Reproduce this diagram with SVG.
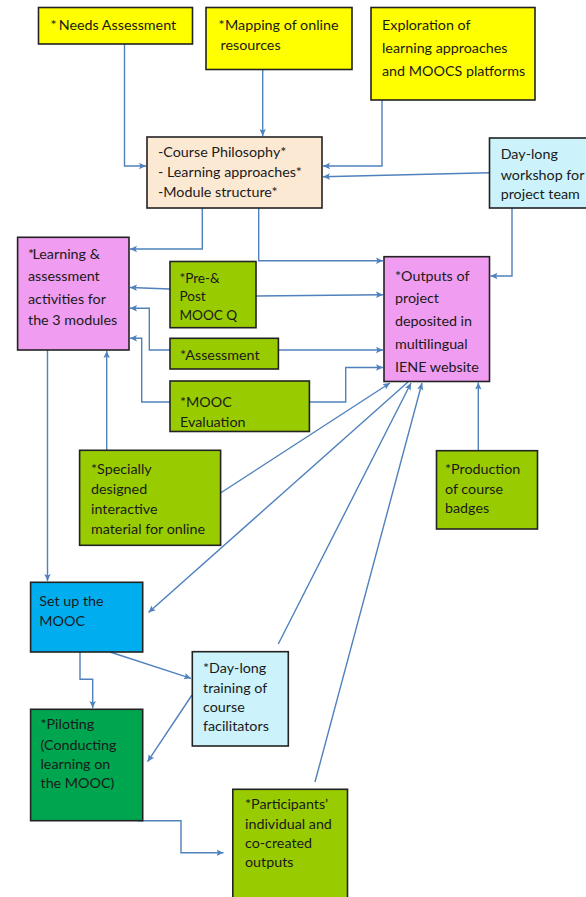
<svg xmlns="http://www.w3.org/2000/svg" width="586" height="897" viewBox="0 0 586 897">
<defs>
<marker id="ah" markerUnits="userSpaceOnUse" markerWidth="10" markerHeight="10" refX="7" refY="3.5" orient="auto">
<path d="M0,0.3 L7,3.5 L0,6.7 L1.5,3.5 z" fill="#4F81BD"/>
</marker>
<style>
.b{stroke:#222;stroke-width:1.6}
.y{fill:#FFFF00}.g{fill:#99CC00}.p{fill:#F09CF0}.t{fill:#FCE9D4}.c{fill:#CCF3FB}.bl{fill:#00AEEF}.dg{fill:#00A550}
text{font-family:Lato,"Liberation Sans",sans-serif;font-size:14.3px;fill:#1a1a1a}
.s{font-size:13.6px}
.cn path{fill:none;stroke:#4F81BD;stroke-width:1.4;marker-end:url(#ah)}
</style>
</defs>
<rect width="586" height="897" fill="#fff"/>
<g class="cn" id="connectors">
<path d="M124.5,44 V166 H146"/>
<path d="M262.7,69.3 V136"/>
<path d="M382,100 V166 H323"/>
<path d="M489.5,172.7 L323,176.7"/>
<path d="M512,208 V276 H490.5"/>
<path d="M202.3,208 V249 H130"/>
<path d="M258.7,208 V260.7 H383"/>
<path d="M170,289 L130,287.5"/>
<path d="M256,296 L383,294.7"/>
<path d="M170,350 H149.3 V308.3 H130"/>
<path d="M278.4,350 H383"/>
<path d="M170,402 H141.7 V338.3 H130"/>
<path d="M309.5,402 H345.7 V367.5 H383"/>
<path d="M106.7,450 V351"/>
<path d="M220.5,493 L390,383"/>
<path d="M408,382 L148.5,612.5"/>
<path d="M278.3,644 L411,383"/>
<path d="M315,782 L422,383"/>
<path d="M478.3,450.7 V382.5"/>
<path d="M47.5,350 V581"/>
<path d="M80,652 V679.3 H92.7 V708"/>
<path d="M110,652 L191,678.3"/>
<path d="M192,695 L147.6,761.7"/>
<path d="M138,820.7 H181 V852.7 H223.5"/>
</g>
<g id="needs"><rect class="b y" x="38.5" y="7.5" width="154" height="36.5"/><text x="50.4" y="30">*<tspan x="58.7">Needs Assessment</tspan></text></g>
<g id="mapping"><rect class="b y" x="206" y="7.5" width="146" height="62"/><text x="218.6" y="30">*<tspan x="225">Mapping of online</tspan></text><text x="220.5" y="50">resources</text></g>
<g id="exploration"><rect class="b y" x="371" y="7.5" width="164" height="92.5"/><text x="382" y="30">Exploration of</text><text x="382" y="53">learning approaches</text><text x="382" y="76">and MOOCS platforms</text></g>
<g id="course"><rect class="b t" x="147" y="137" width="175" height="71"/><text x="158" y="157">-Course Philosophy*</text><text x="158" y="177">- Learning approaches*</text><text x="158" y="197">-Module structure*</text></g>
<g id="workshop"><rect class="b c" x="489.5" y="138" width="100" height="70"/><text x="500.7" y="159">Day-long</text><text x="500.7" y="180">workshop for</text><text x="500.7" y="199">project team</text></g>
<g id="learning"><rect class="b p" x="17.6" y="237.3" width="111.4" height="112.7"/><text x="28" y="259">*<tspan x="32.5">Learning  &amp;</tspan></text><text x="28" y="281">assessment</text><text x="28" y="303.5">activities for</text><text x="28" y="325">the 3 modules</text></g>
<g id="prepost"><rect class="b g" x="170" y="261.5" width="86" height="66.2"/><text class="s" x="179.4" y="283">*Pre-&amp;</text><text class="s" x="179.4" y="301">Post</text><text class="s" x="179.4" y="320">MOOC Q</text></g>
<g id="assessment"><rect class="b g" x="170" y="338.3" width="108.4" height="30.7"/><text x="180" y="360">*Assessment</text></g>
<g id="evaluation"><rect class="b g" x="170" y="381" width="139.4" height="50.5"/><text x="180" y="407">*MOOC</text><text x="180" y="427">Evaluation</text></g>
<g id="outputs"><rect class="b p" x="384" y="256.7" width="105.5" height="124.8"/><text x="395" y="281">*Outputs of</text><text x="395" y="303">project</text><text x="395" y="326">deposited in</text><text x="395" y="349">multilingual</text><text x="395" y="372">IENE website</text></g>
<g id="specially"><rect class="b g" x="79.6" y="450.3" width="141" height="95"/><text x="91" y="474">*Specially</text><text x="91" y="494">designed</text><text x="91" y="514">interactive</text><text x="91" y="534">material for online</text></g>
<g id="badges"><rect class="b g" x="436.5" y="450.7" width="101" height="78.3"/><text x="445" y="474">*Production</text><text x="445" y="494">of course</text><text x="445" y="513">badges</text></g>
<g id="setup"><rect class="b bl" x="30.6" y="582.3" width="112.1" height="69.7"/><text x="39.3" y="606">Set up the</text><text x="39.3" y="626">MOOC</text></g>
<g id="training"><rect class="b c" x="192.3" y="651.7" width="96" height="94.3"/><text x="203" y="673">*Day-long</text><text x="203" y="693">training of</text><text x="203" y="712">course</text><text x="203" y="731">facilitators</text></g>
<g id="piloting"><rect class="b dg" x="30.6" y="709.3" width="112.1" height="111.4"/><text x="40.5" y="729">*Piloting</text><text x="40.5" y="750">(Conducting</text><text x="40.5" y="769">learning on</text><text x="40.5" y="788">the MOOC)</text></g>
<g id="participants"><rect class="b g" x="232.8" y="789.3" width="114.7" height="115"/><text x="245" y="809">*Participants’</text><text x="245" y="829">individual and</text><text x="245" y="848">co-created</text><text x="245" y="867">outputs</text></g>
</svg>
